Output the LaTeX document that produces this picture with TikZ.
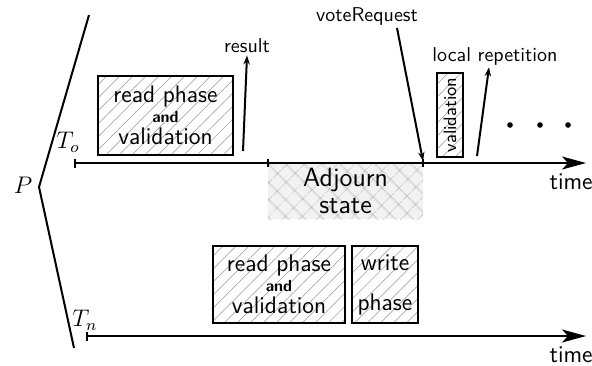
\documentclass[tikz,border=0pt]{standalone}
\usepackage{amsmath,amssymb}
\usepackage{tikz}
\usetikzlibrary{arrows.meta,patterns.meta,positioning}
\definecolor{hatchgray}{RGB}{170,170,170}
\definecolor{adjourngray}{RGB}{242,242,242}

\tikzset{
  phasebox/.style={draw,line width=1pt,align=center,inner sep=0pt,
    pattern={Lines[angle=45,distance=4.6pt,line width=0.35pt]},pattern color=hatchgray},
  timeline/.style={line width=1pt,{Bar[width=4.5pt]}-{Stealth[length=12pt,width=6.5pt,inset=3pt]}},
  msg/.style={line width=1pt,-{Stealth[length=4.5pt,width=3.2pt]}},
  lbl/.style={font=\sffamily,inner sep=1pt}
}

\begin{document}
\begin{tikzpicture}[x=5pt,y=-5pt]
    \useasboundingbox (0,0) rectangle (59.2,36.5);
    % processes bracket
    \coordinate (ptop) at (8.9,1.5);
    \coordinate (ptip) at (3.9,18.7);
    \coordinate (pbot) at (7.4,34.8);
    \draw[line width=1pt] (ptop) -- (ptip) -- (pbot);
    \node (P) at (2.3,18.5) {\large$P$};

    % old transaction
    \coordinate (o0) at (7.4,16.3);
    \coordinate (o1) at (26.8,16.3);
    \coordinate (o2) at (42.3,16.3);
    \coordinate (oend) at (58.6,16.3);
    \node (adj) at (34.55,19.1) [minimum width=77.5pt,minimum height=28pt,inner sep=0pt,
      preaction={fill=adjourngray},pattern={Hatch[angle=45,distance=6.4pt,line width=0.35pt]},
      pattern color=hatchgray,font=\fontsize{13.2}{15}\sffamily,align=center] {Adjourn\\[-1.5pt]state};
    \draw[timeline] (o0) -- (oend);
    \foreach \t in {o1,o2}
      \draw[line width=1pt] ([yshift=2.2pt]\t) -- ([yshift=-2.2pt]\t);
    \node (To) at (6.8,14.2) {\large$T_o$};
    \node[lbl,font=\large\sffamily,anchor=north east,inner sep=0pt] (time1) at (59.3,17.3) {time};

    \node[phasebox,minimum width=67.5pt,minimum height=39.5pt,font=\large\sffamily] (rp1) at (16.55,11.55)
      {read phase\\[-4pt]{\footnotesize\bfseries and}\\[-3pt]validation};
    \node[lbl] (result) at (24.7,4.6) {result};
    \coordinate (res0) at (24.3,15.1);
    \draw[msg] (res0) -- (result.south);

    \node[lbl] (vote) at (36.7,1.6) {voteRequest};
    \coordinate (vote0) at (39.7,2.8);
    \draw[msg] (vote0) -- ([yshift=1pt]o2);

    \node[phasebox,rotate=90,minimum width=42pt,minimum height=13pt,font=\small\sffamily] (val) at (45,11.5) {validation};
    \node[lbl] (rep) at (49.5,5.6) {local repetition};
    \coordinate (rep0) at (47.7,15.6);
    \draw[msg] (rep0) -- ([xshift=-3pt]rep.south);
    \foreach \x in {51,54,56.8}
      \fill (\x,12.5) circle (1.4pt);

    % new transaction
    \coordinate (n0) at (8.6,33.6);
    \coordinate (nend) at (58.6,33.6);
    \draw[timeline] (n0) -- (nend);
    \node (Tn) at (8.5,32.0) {\large$T_n$};
    \node[lbl,font=\large\sffamily,anchor=north east,inner sep=0pt] (time2) at (59.3,34.6) {time};
    \node[phasebox,minimum width=66pt,minimum height=38.5pt,font=\large\sffamily] (rp2) at (27.9,28.45)
      {read phase\\[-4pt]{\footnotesize\bfseries and}\\[-3pt]validation};
    \node[phasebox,minimum width=33pt,minimum height=38.5pt,font=\large\sffamily] (wp) at (38.5,28.45)
      {write\\[6pt]phase};
  \end{tikzpicture}
\end{document}
